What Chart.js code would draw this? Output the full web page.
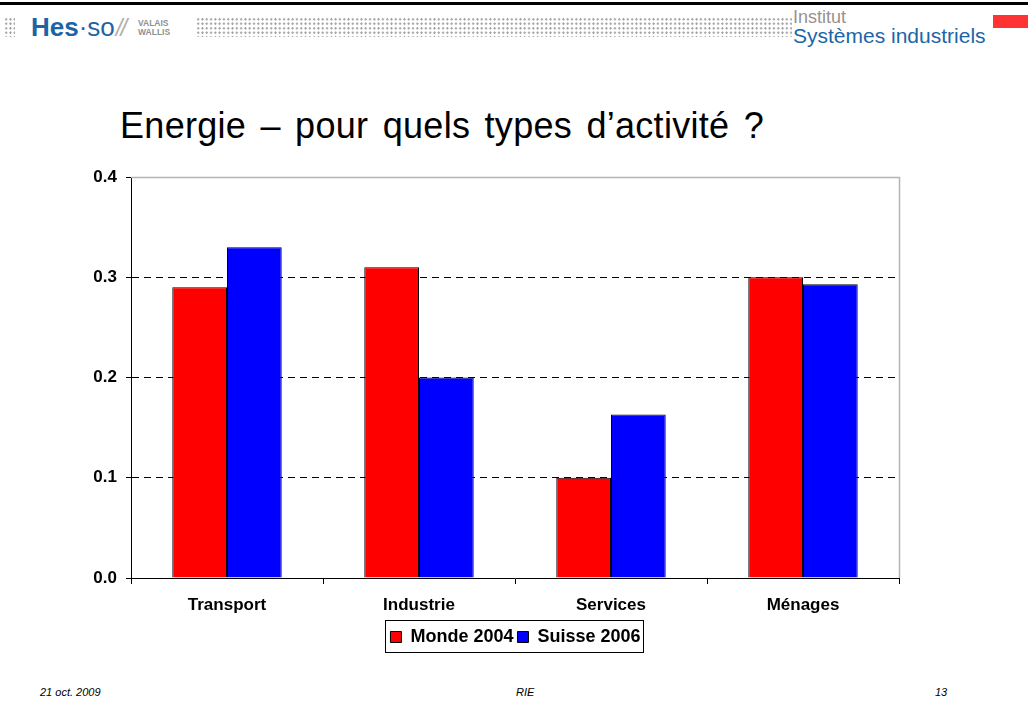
<!DOCTYPE html>
<html>
<head>
<meta charset="utf-8">
<script src="https://cdn.jsdelivr.net/npm/chart.js@4"></script>
<style>
	html, body { margin: 0; padding: 0; background: #fff; }
	body { width: 1028px; height: 718px; position: relative; overflow: hidden; font-family: "Liberation Sans", Arial, sans-serif; }
	.topline { position: absolute; left: 0; top: 2px; width: 1028px; height: 3px; background: #000; }
	.dots { position: absolute; background-image: radial-gradient(circle, #a0a0a0 0.9px, transparent 1.3px); background-size: 4.3px 4.5px; }
	.logo { position: absolute; left: 31px; top: 14px; font-size: 26px; line-height: 26px; color: #1d64a6; white-space: nowrap; }
	.logo b { font-weight: bold; }
	.logo .slash { color: #b0b0b0; font-style: italic; font-size: 24px; letter-spacing: -2px; margin-left: 1px; }
	.valais { position: absolute; left: 138px; top: 19px; font-size: 8.5px; line-height: 8.5px; color: #909090; font-weight: bold; }
	.institut { position: absolute; left: 793px; top: 8px; font-size: 18px; line-height: 18px; color: #9a9090; }
	.systemes { position: absolute; left: 793px; top: 25px; font-size: 21px; line-height: 22px; color: #1b66a8; }
	.redmark { position: absolute; left: 993px; top: 15px; width: 35px; height: 13px; background: #ff3333; }
	.title { position: absolute; left: 120px; top: 108px; font-size: 36px; line-height: 36px; word-spacing: 4px; letter-spacing: 0.3px; color: #000; white-space: nowrap; }
	.footer { position: absolute; top: 686px; font-size: 11px; font-style: italic; color: #000; }
	#chartBox { position: absolute; left: 0; top: 0; width: 1028px; height: 718px; }
</style>
</head>
<body>
<div class="topline"></div>
<div class="dots" style="left:4px; top:17px; width:11px; height:20px;"></div>
<div class="logo"><b>Hes</b>·so<span class="slash">//</span></div>
<div class="valais">VALAIS<br>WALLIS</div>
<div class="dots" style="left:196px; top:17px; width:596px; height:20px;"></div>
<div class="institut">Institut</div>
<div class="systemes">Systèmes industriels</div>
<div class="redmark"></div>
<div class="title">Energie – pour quels types d’activité ?</div>
<div class="footer" style="left:40px;">21 oct. 2009</div>
<div class="footer" style="left:516px;">RIE</div>
<div class="footer" style="left:935px;">13</div>
<div id="chartBox"><canvas id="energyChart"></canvas></div>

<script>
const categories = ['Transport', 'Industrie', 'Services', 'Ménages'];
const monde2004 = [0.29, 0.31, 0.10, 0.30];
const suisse2006 = [0.33, 0.20, 0.163, 0.293];
const yTicks = [0, 0.1, 0.2, 0.3, 0.4];

// legend in the slide sits centred on the page, not on the plot
const LEGEND_SHIFT = 36;

const plotFrame = {
	id: 'plotFrame',
	afterLayout(chart) {
		const legend = chart.legend;
		if (!legend) return;
		legend.left += LEGEND_SHIFT;
		legend.right += LEGEND_SHIFT;
	},
	afterDatasetsDraw(chart) {
		const { ctx, chartArea } = chart;
		ctx.save();
		ctx.strokeStyle = '#b4b4b4';
		ctx.lineWidth = 1.5;
		ctx.beginPath();
		ctx.moveTo(chartArea.left, chartArea.top + 0.5);
		ctx.lineTo(chartArea.right + 0.5, chartArea.top + 0.5);
		ctx.lineTo(chartArea.right + 0.5, chartArea.bottom);
		ctx.stroke();
		ctx.restore();
	},
	afterDraw(chart) {
		const boxes = chart.legend && chart.legend.legendHitBoxes;
		if (!boxes || !boxes.length) return;
		const left = Math.min(...boxes.map((b) => b.left)) - 5;
		const right = Math.max(...boxes.map((b) => b.left + b.width)) + 3;
		const top = Math.min(...boxes.map((b) => b.top)) - 8;
		const bottom = Math.max(...boxes.map((b) => b.top + b.height)) + 6;
		const { ctx } = chart;
		ctx.save();
		ctx.strokeStyle = '#000';
		ctx.lineWidth = 1;
		ctx.strokeRect(Math.round(left) + 0.5, Math.round(top) + 0.5, Math.round(right - left), Math.round(bottom - top));
		ctx.restore();
	},
};

document.addEventListener('DOMContentLoaded', () => {
	const ctx = document.getElementById('energyChart');
	Chart.defaults.font.family = '"Liberation Sans", Arial, sans-serif';
	Chart.defaults.color = '#000';

	new Chart(ctx.getContext('2d'), {
		type: 'bar',
		data: {
			labels: categories,
			datasets: [
				{
					label: 'Monde 2004',
					data: monde2004,
					backgroundColor: '#ff0000',
					borderColor: '#000',
					borderWidth: 1,
					categoryPercentage: 0.57,
					barPercentage: 1,
				},
				{
					label: 'Suisse 2006',
					data: suisse2006,
					backgroundColor: '#0000ff',
					borderColor: '#000',
					borderWidth: 1,
					categoryPercentage: 0.57,
					barPercentage: 1,
				},
			],
		},
		options: {
			responsive: true,
			maintainAspectRatio: false,
			animation: false,
			layout: { padding: { left: 60, right: 129, top: 177, bottom: 62 } },
			scales: {
				y: {
					min: 0,
					max: 0.4,
					afterFit(scale) { scale.width = 71; },
					afterBuildTicks(scale) { scale.ticks = yTicks.map((v) => ({ value: v })); },
					ticks: {
						padding: 9,
						font: { size: 17, weight: 'bold' },
						callback(value) { return Number(value).toFixed(1); },
					},
					grid: {
						color(context) {
							const v = context.tick && context.tick.value;
							return (v === 0 || v === 0.4) ? 'rgba(0,0,0,0)' : '#000';
						},
						tickColor: '#000',
						tickLength: 5,
						lineWidth: 1,
					},
					border: { display: true, color: '#000', width: 1, dash: [7, 5] },
				},
				x: {
					afterFit(scale) { scale.height = 46; },
					ticks: {
						padding: 11,
						font: { size: 17, weight: 'bold' },
					},
					grid: {
						offset: true,
						drawOnChartArea: false,
						drawTicks: true,
						tickLength: 6,
						color: '#000',
					},
					border: { display: true, color: '#000', width: 1 },
				},
			},
			plugins: {
				legend: {
					position: 'bottom',
					labels: {
						boxWidth: 11,
						boxHeight: 11,
						padding: 4,
						font: { size: 18, weight: 'bold' },
						color: '#000',
					},
				},
				tooltip: { enabled: false },
			},
		},
		plugins: [plotFrame],
	});
});
</script>
</body>
</html>
